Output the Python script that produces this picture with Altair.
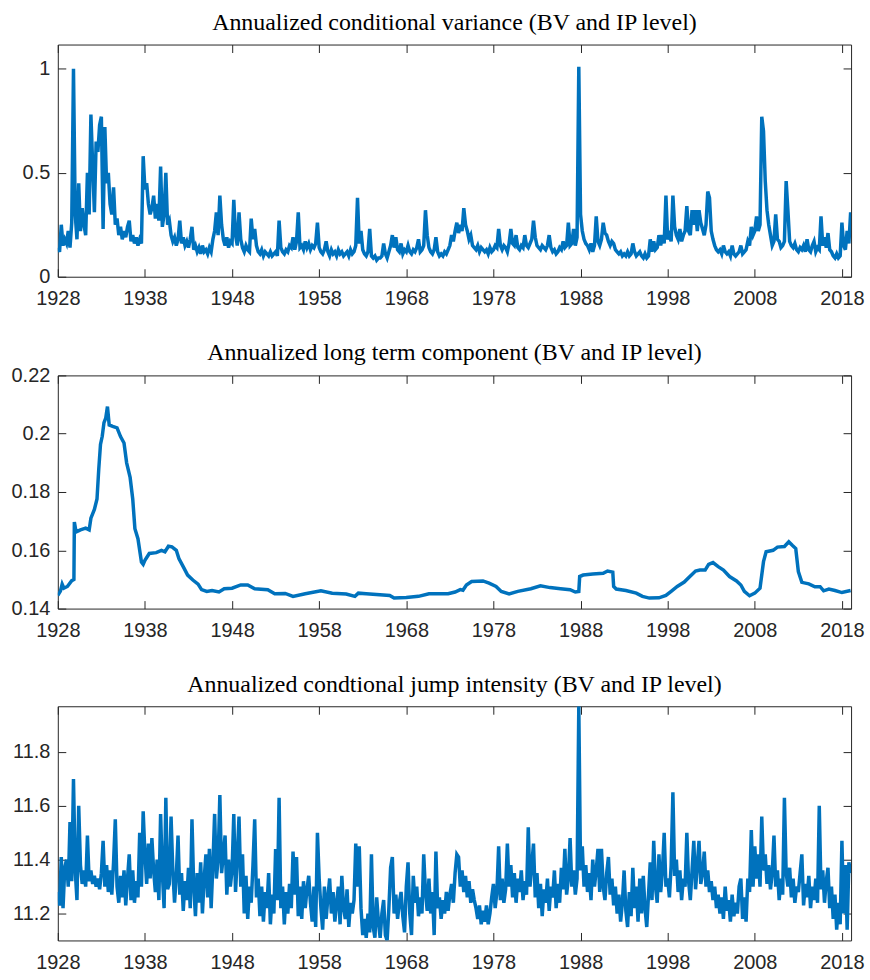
import altair as alt
import pandas as pd

# ---------------- data ----------------
START = 1928.0
STEP = 0.2  # five readings per year for the two noisy series

variance = [
    0.14, 0.12, 0.25, 0.15, 0.18,  # 1928
    0.16, 0.22, 0.14, 0.26, 1.00,  # 1929
    0.30, 0.18, 0.45, 0.22, 0.33,  # 1930
    0.25, 0.20, 0.50, 0.30, 0.78,  # 1931
    0.54, 0.31, 0.65, 0.60, 0.73,  # 1932
    0.77, 0.23, 0.72, 0.45, 0.50,  # 1933
    0.35, 0.30, 0.43, 0.25, 0.28,  # 1934
    0.20, 0.24, 0.18, 0.22, 0.19,  # 1935
    0.24, 0.27, 0.17, 0.20, 0.16,  # 1936
    0.19, 0.15, 0.18, 0.16, 0.58,  # 1937
    0.42, 0.45, 0.35, 0.30, 0.33,  # 1938
    0.39, 0.28, 0.35, 0.27, 0.53,  # 1939
    0.24, 0.30, 0.50, 0.25, 0.27,  # 1940
    0.20, 0.17, 0.19, 0.15, 0.18,  # 1941
    0.27, 0.16, 0.19, 0.15, 0.17,  # 1942
    0.14, 0.18, 0.24, 0.13, 0.15,  # 1943
    0.12, 0.14, 0.11, 0.15, 0.12,  # 1944
    0.13, 0.11, 0.14, 0.12, 0.18,  # 1945
    0.22, 0.31, 0.20, 0.39, 0.25,  # 1946
    0.18, 0.15, 0.19, 0.14, 0.17,  # 1947
    0.16, 0.37, 0.20, 0.15, 0.31,  # 1948
    0.18, 0.14, 0.12, 0.15, 0.13,  # 1949
    0.12, 0.28, 0.18, 0.23, 0.15,  # 1950
    0.12, 0.11, 0.13, 0.10, 0.12,  # 1951
    0.11, 0.10, 0.12, 0.10, 0.11,  # 1952
    0.12, 0.10, 0.27, 0.14, 0.12,  # 1953
    0.11, 0.13, 0.12, 0.15, 0.14,  # 1954
    0.19, 0.13, 0.17, 0.31, 0.14,  # 1955
    0.15, 0.13, 0.17, 0.14, 0.16,  # 1956
    0.13, 0.15, 0.14, 0.16, 0.26,  # 1957
    0.14, 0.12, 0.11, 0.13, 0.17,  # 1958
    0.12, 0.10, 0.13, 0.11, 0.12,  # 1959
    0.10, 0.13, 0.11, 0.12, 0.10,  # 1960
    0.11, 0.12, 0.10, 0.13, 0.11,  # 1961
    0.12, 0.15, 0.38, 0.16, 0.22,  # 1962
    0.13, 0.11, 0.10, 0.12, 0.23,  # 1963
    0.10, 0.09, 0.10, 0.08, 0.09,  # 1964
    0.09, 0.10, 0.16, 0.11, 0.09,  # 1965
    0.12, 0.15, 0.20, 0.14, 0.19,  # 1966
    0.13, 0.12, 0.16, 0.11, 0.13,  # 1967
    0.12, 0.15, 0.12, 0.11, 0.13,  # 1968
    0.12, 0.14, 0.18, 0.12, 0.13,  # 1969
    0.15, 0.32, 0.20, 0.14, 0.12,  # 1970
    0.11, 0.13, 0.19, 0.12, 0.10,  # 1971
    0.11, 0.10, 0.12, 0.11, 0.13,  # 1972
    0.15, 0.20, 0.17, 0.22, 0.26,  # 1973
    0.21, 0.25, 0.22, 0.33, 0.25,  # 1974
    0.22, 0.18, 0.20, 0.15, 0.14,  # 1975
    0.13, 0.15, 0.12, 0.14, 0.13,  # 1976
    0.12, 0.13, 0.11, 0.14, 0.12,  # 1977
    0.13, 0.15, 0.14, 0.23, 0.15,  # 1978
    0.13, 0.15, 0.14, 0.12, 0.16,  # 1979
    0.23, 0.16, 0.15, 0.20, 0.14,  # 1980
    0.13, 0.15, 0.14, 0.20, 0.15,  # 1981
    0.14, 0.16, 0.18, 0.27, 0.19,  # 1982
    0.15, 0.14, 0.13, 0.15, 0.14,  # 1983
    0.13, 0.15, 0.20, 0.14, 0.12,  # 1984
    0.13, 0.11, 0.12, 0.14, 0.13,  # 1985
    0.17, 0.14, 0.15, 0.26, 0.15,  # 1986
    0.16, 0.23, 0.15, 0.19, 1.01,  # 1987
    0.30, 0.22, 0.18, 0.16, 0.15,  # 1988
    0.13, 0.16, 0.12, 0.15, 0.29,  # 1989
    0.17, 0.15, 0.18, 0.26, 0.21,  # 1990
    0.20, 0.17, 0.15, 0.17, 0.16,  # 1991
    0.13, 0.12, 0.11, 0.12, 0.10,  # 1992
    0.11, 0.10, 0.12, 0.10, 0.11,  # 1993
    0.16, 0.12, 0.10, 0.11, 0.12,  # 1994
    0.10, 0.09, 0.11, 0.09, 0.10,  # 1995
    0.18, 0.12, 0.17, 0.13, 0.14,  # 1996
    0.20, 0.15, 0.20, 0.16, 0.39,  # 1997
    0.18, 0.20, 0.17, 0.39, 0.24,  # 1998
    0.20, 0.18, 0.23, 0.17, 0.20,  # 1999
    0.22, 0.34, 0.22, 0.20, 0.32,  # 2000
    0.25, 0.32, 0.22, 0.32, 0.26,  # 2001
    0.23, 0.20, 0.25, 0.41, 0.38,  # 2002
    0.22, 0.18, 0.15, 0.13, 0.12,  # 2003
    0.13, 0.11, 0.15, 0.12, 0.11,  # 2004
    0.12, 0.10, 0.15, 0.11, 0.10,  # 2005
    0.11, 0.12, 0.15, 0.11, 0.12,  # 2006
    0.13, 0.17, 0.15, 0.24, 0.20,  # 2007
    0.22, 0.29, 0.22, 0.25, 0.77,  # 2008
    0.70, 0.46, 0.32, 0.25, 0.20,  # 2009
    0.15, 0.17, 0.30, 0.18, 0.17,  # 2010
    0.14, 0.15, 0.17, 0.46, 0.32,  # 2011
    0.17, 0.15, 0.14, 0.16, 0.13,  # 2012
    0.12, 0.14, 0.13, 0.15, 0.12,  # 2013
    0.18, 0.13, 0.12, 0.15, 0.17,  # 2014
    0.12, 0.14, 0.13, 0.29, 0.15,  # 2015
    0.19, 0.14, 0.21, 0.13, 0.12,  # 2016
    0.10, 0.09, 0.11, 0.09, 0.10,  # 2017
    0.26, 0.15, 0.13, 0.22, 0.16,  # 2018
    0.31,                          # 2019
]

jump = [
    11.28, 11.23, 11.41, 11.22, 11.37,  # 1928
    11.40, 11.30, 11.54, 11.32, 11.70,  # 1929
    11.36, 11.25, 11.60, 11.38, 11.31,  # 1930
    11.36, 11.30, 11.49, 11.32, 11.36,  # 1931
    11.31, 11.34, 11.30, 11.33, 11.29,  # 1932
    11.35, 11.47, 11.30, 11.38, 11.28,  # 1933
    11.36, 11.27, 11.39, 11.55, 11.30,  # 1934
    11.24, 11.34, 11.26, 11.36, 11.23,  # 1935
    11.33, 11.42, 11.25, 11.36, 11.24,  # 1936
    11.32, 11.26, 11.50, 11.30, 11.58,  # 1937
    11.42, 11.31, 11.46, 11.33, 11.48,  # 1938
    11.36, 11.28, 11.40, 11.25, 11.57,  # 1939
    11.35, 11.22, 11.63, 11.29, 11.31,  # 1940
    11.56, 11.36, 11.24, 11.34, 11.49,  # 1941
    11.27, 11.35, 11.21, 11.32, 11.25,  # 1942
    11.37, 11.22, 11.55, 11.30, 11.19,  # 1943
    11.35, 11.24, 11.39, 11.20, 11.33,  # 1944
    11.42, 11.26, 11.44, 11.22, 11.38,  # 1945
    11.57, 11.33, 11.40, 11.64, 11.35,  # 1946
    11.42, 11.49, 11.27, 11.40, 11.30,  # 1947
    11.36, 11.57, 11.28, 11.41, 11.56,  # 1948
    11.30, 11.42, 11.20, 11.34, 11.18,  # 1949
    11.30, 11.24, 11.38, 11.55, 11.26,  # 1950
    11.33, 11.19, 11.30, 11.17, 11.28,  # 1951
    11.22, 11.35, 11.16, 11.27, 11.20,  # 1952
    11.44, 11.25, 11.63, 11.22, 11.30,  # 1953
    11.16, 11.28, 11.20, 11.31, 11.22,  # 1954
    11.43, 11.27, 11.41, 11.19, 11.30,  # 1955
    11.18, 11.32, 11.22, 11.29, 11.34,  # 1956
    11.24, 11.17, 11.30, 11.15, 11.50,  # 1957
    11.33, 11.22, 11.14, 11.30, 11.18,  # 1958
    11.26, 11.33, 11.20, 11.28, 11.17,  # 1959
    11.24, 11.30, 11.16, 11.34, 11.22,  # 1960
    11.18, 11.29, 11.15, 11.24, 11.20,  # 1961
    11.25, 11.46, 11.30, 11.45, 11.22,  # 1962
    11.12, 11.18, 11.11, 11.20, 11.13,  # 1963
    11.42, 11.15, 11.11, 11.26, 11.17,  # 1964
    11.11, 11.20, 11.25, 11.12, 11.10,  # 1965
    11.22, 11.37, 11.41, 11.20, 11.27,  # 1966
    11.18, 11.24, 11.28, 11.19, 11.13,  # 1967
    11.30, 11.39, 11.20, 11.12, 11.34,  # 1968
    11.24, 11.30, 11.19, 11.26, 11.20,  # 1969
    11.42, 11.28, 11.21, 11.33, 11.20,  # 1970
    11.28, 11.12, 11.43, 11.22, 11.26,  # 1971
    11.18, 11.25, 11.20, 11.28, 11.21,  # 1972
    11.27, 11.31, 11.24, 11.35, 11.42,  # 1973
    11.41, 11.30, 11.36, 11.28, 11.34,  # 1974
    11.26, 11.32, 11.24, 11.29, 11.25,  # 1975
    11.22, 11.18, 11.23, 11.16, 11.21,  # 1976
    11.17, 11.23, 11.16, 11.20, 11.26,  # 1977
    11.31, 11.22, 11.28, 11.45, 11.25,  # 1978
    11.33, 11.24, 11.29, 11.46, 11.30,  # 1979
    11.38, 11.26, 11.35, 11.24, 11.33,  # 1980
    11.28, 11.36, 11.25, 11.32, 11.27,  # 1981
    11.52, 11.30, 11.38, 11.46, 11.26,  # 1982
    11.35, 11.22, 11.31, 11.19, 11.29,  # 1983
    11.24, 11.33, 11.21, 11.30, 11.26,  # 1984
    11.36, 11.22, 11.31, 11.24, 11.37,  # 1985
    11.29, 11.44, 11.27, 11.33, 11.48,  # 1986
    11.30, 11.36, 11.27, 11.33, 11.97,  # 1987
    11.36, 11.45, 11.30, 11.38, 11.28,  # 1988
    11.35, 11.25, 11.40, 11.30, 11.36,  # 1989
    11.44, 11.28, 11.44, 11.30, 11.25,  # 1990
    11.35, 11.41, 11.27, 11.33, 11.23,  # 1991
    11.30, 11.20, 11.27, 11.17, 11.24,  # 1992
    11.36, 11.21, 11.15, 11.28, 11.19,  # 1993
    11.37, 11.22, 11.30, 11.17, 11.33,  # 1994
    11.20, 11.34, 11.22, 11.15, 11.27,  # 1995
    11.39, 11.25, 11.47, 11.30, 11.24,  # 1996
    11.42, 11.28, 11.36, 11.50, 11.30,  # 1997
    11.33, 11.26, 11.38, 11.65, 11.34,  # 1998
    11.40, 11.28, 11.36, 11.25, 11.33,  # 1999
    11.30, 11.50, 11.32, 11.25, 11.36,  # 2000
    11.47, 11.29, 11.38, 11.47, 11.31,  # 2001
    11.35, 11.43, 11.30, 11.36, 11.28,  # 2002
    11.32, 11.25, 11.30, 11.22, 11.27,  # 2003
    11.20, 11.26, 11.18, 11.30, 11.21,  # 2004
    11.25, 11.17, 11.27, 11.19, 11.24,  # 2005
    11.20, 11.30, 11.33, 11.18, 11.26,  # 2006
    11.17, 11.33, 11.28, 11.51, 11.30,  # 2007
    11.45, 11.33, 11.42, 11.30, 11.56,  # 2008
    11.36, 11.42, 11.31, 11.38, 11.29,  # 2009
    11.35, 11.49, 11.30, 11.36, 11.25,  # 2010
    11.33, 11.27, 11.63, 11.35, 11.30,  # 2011
    11.37, 11.26, 11.33, 11.24, 11.30,  # 2012
    11.28, 11.35, 11.42, 11.23, 11.31,  # 2013
    11.26, 11.34, 11.22, 11.30, 11.25,  # 2014
    11.33, 11.24, 11.60, 11.29, 11.36,  # 2015
    11.24, 11.32, 11.37, 11.22, 11.30,  # 2016
    11.18, 11.27, 11.14, 11.24, 11.16,  # 2017
    11.47, 11.20, 11.38, 11.14, 11.39,  # 2018
    11.35,                              # 2019
]

lt_years = [
    1928.0, 1928.3, 1928.5, 1928.7, 1929.1, 1929.6, 1929.85, 1929.9, 1930.1, 1930.6,
    1931.2, 1931.6, 1931.8, 1932.2, 1932.5, 1932.7, 1932.9, 1933.1, 1933.3, 1933.5,
    1933.7, 1933.9, 1934.3, 1934.8, 1935.2, 1935.6, 1935.9, 1936.3, 1936.6, 1936.85,
    1937.2, 1937.6, 1937.8, 1938.0, 1938.5, 1939.3, 1939.9, 1940.3, 1940.7, 1941.1,
    1941.6, 1941.9, 1942.5, 1942.9, 1943.5, 1944.1, 1944.5, 1945.1, 1945.7, 1946.5,
    1947.1, 1948.0, 1949.0, 1949.8, 1950.6, 1952.1, 1952.9, 1954.1, 1955.0, 1956.4,
    1958.2, 1959.5, 1961.1, 1962.1, 1962.5, 1963.4, 1966.1, 1966.6, 1968.0, 1969.4,
    1970.6, 1972.8, 1973.6, 1974.2, 1974.5, 1974.9, 1975.5, 1976.8, 1977.5, 1978.3,
    1978.9, 1979.8, 1980.8, 1982.3, 1983.4, 1984.5, 1985.7, 1986.8, 1987.4, 1987.8,
    1987.9, 1988.3, 1989.4, 1990.6, 1991.1, 1991.7, 1991.8, 1992.1, 1993.2, 1994.4,
    1995.1, 1995.9, 1997.0, 1997.8, 1998.4, 1999.1, 1999.9, 2000.4, 2001.2, 2001.7,
    2002.3, 2002.7, 2003.2, 2003.8, 2004.4, 2005.1, 2005.9, 2006.4, 2006.8, 2007.4,
    2008.0, 2008.6, 2009.0, 2009.3, 2010.1, 2010.6, 2011.4, 2011.9, 2012.3, 2012.7,
    2013.0, 2013.4, 2014.2, 2014.9, 2015.5, 2015.9, 2016.5, 2017.2, 2018.0, 2019.0,
]
lt_values = [
    0.1445, 0.1460, 0.1484, 0.1470, 0.1476, 0.1496, 0.1500, 0.1697, 0.1663, 0.1670,
    0.1676, 0.1670, 0.1710, 0.1740, 0.1776, 0.1878, 0.1963, 0.1991, 0.2038, 0.2053,
    0.2093, 0.2030, 0.2025, 0.2020, 0.1990, 0.1968, 0.1900, 0.1850, 0.1776, 0.1674,
    0.1640, 0.1560, 0.1552, 0.1566, 0.1589, 0.1592, 0.1600, 0.1595, 0.1614, 0.1612,
    0.1600, 0.1572, 0.1538, 0.1515, 0.1498, 0.1484, 0.1465, 0.1459, 0.1462, 0.1457,
    0.1468, 0.1470, 0.1481, 0.1481, 0.1468, 0.1465, 0.1451, 0.1452, 0.1442, 0.1451,
    0.1461, 0.1453, 0.1450, 0.1442, 0.1453, 0.1451, 0.1445, 0.1436, 0.1438, 0.1442,
    0.1451, 0.1451, 0.1457, 0.1465, 0.1463, 0.1481, 0.1493, 0.1495, 0.1487, 0.1476,
    0.1459, 0.1450, 0.1459, 0.1468, 0.1478, 0.1472, 0.1468, 0.1465, 0.1457, 0.1459,
    0.1510, 0.1515, 0.1519, 0.1521, 0.1529, 0.1525, 0.1476, 0.1467, 0.1462, 0.1453,
    0.1442, 0.1436, 0.1437, 0.1445, 0.1459, 0.1476, 0.1491, 0.1506, 0.1529, 0.1532,
    0.1532, 0.1552, 0.1558, 0.1544, 0.1532, 0.1510, 0.1495, 0.1481, 0.1459, 0.1444,
    0.1453, 0.1470, 0.1561, 0.1595, 0.1600, 0.1611, 0.1613, 0.1629, 0.1617, 0.1606,
    0.1527, 0.1490, 0.1485, 0.1475, 0.1475, 0.1461, 0.1467, 0.1462, 0.1455, 0.1462,
]

titles = [
    "Annualized conditional variance (BV and IP level)",
    "Annualized long term component (BV and IP level)",
    "Annualized condtional jump intensity (BV and IP level)",
]
x_ticks = [1928, 1938, 1948, 1958, 1968, 1978, 1988, 1998, 2008, 2018]
x_domain = [1928.0, 2019.05]
y_domains = [[0, 1.117], [0.14, 0.22], [11.1, 11.97]]
y_ticks = [[0, 0.5, 1], [0.14, 0.16, 0.18, 0.2, 0.22], [11.2, 11.4, 11.6, 11.8]]

# ---------------- tables ----------------
df_var = pd.DataFrame({"year": [START + STEP * i for i in range(len(variance))], "value": variance})
df_jump = pd.DataFrame({"year": [START + STEP * i for i in range(len(jump))], "value": jump})
df_lt = pd.DataFrame({"year": lt_years, "value": lt_values})

BLUE = "#0072BD"
AXC = "#262626"
LABEL_FONT = "Liberation Sans"
TITLE_FONT = "Liberation Serif"
TICK = 8
LABEL_SIZE = 20
WIDTH = 796


def tick_axis(orient, values, offset):
    # tick-only axis pushed inside the frame so that its ticks point inward
    return alt.Axis(orient=orient, values=values, labels=False, domain=False, grid=False,
                    ticks=True, tickSize=TICK, tickColor=AXC, tickWidth=1,
                    offset=offset, minExtent=0, maxExtent=0, title=None)


def panel(df, title, ydom, yvals, height, toff):
    xs = alt.Scale(domain=x_domain, nice=False, zero=False)
    ys = alt.Scale(domain=ydom, nice=False, zero=False)
    base = alt.Chart(df)

    main = base.mark_line(color=BLUE, strokeWidth=3.5, clip=True).encode(
        x=alt.X("year:Q", scale=xs, title=None,
                axis=alt.Axis(orient="bottom", values=x_ticks, format="d", tickSize=0,
                              domain=False, grid=False, labelPadding=12,
                              labelFontSize=LABEL_SIZE, labelFont=LABEL_FONT, labelColor=AXC,
                              labelFlush=False)),
        y=alt.Y("value:Q", scale=ys, title=None,
                axis=alt.Axis(orient="left", values=yvals, format="~g", tickSize=0,
                              domain=False, grid=False, labelPadding=8,
                              labelFontSize=LABEL_SIZE, labelFont=LABEL_FONT, labelColor=AXC,
                              minExtent=48, maxExtent=48)),
    )
    # inward ticks on bottom and left edges
    ticks_bl = base.mark_line(strokeOpacity=0, clip=True).encode(
        x=alt.X("year:Q", scale=xs, axis=tick_axis("bottom", x_ticks, -TICK)),
        y=alt.Y("value:Q", scale=ys, axis=tick_axis("left", yvals, -TICK)),
    )
    # inward ticks on top and right edges (bottom/left axes moved across the frame)
    ticks_tr = base.mark_line(strokeOpacity=0, clip=True).encode(
        x=alt.X("year:Q", scale=xs, axis=tick_axis("bottom", x_ticks, -height)),
        y=alt.Y("value:Q", scale=ys, axis=tick_axis("left", yvals, -WIDTH)),
    )
    return (
        alt.layer(main, ticks_bl, ticks_tr)
        .resolve_axis(x="independent", y="independent")
        .properties(
            width=WIDTH,
            height=height,
            title=alt.TitleParams(title, font=TITLE_FONT, fontSize=24, fontWeight="normal",
                                  color="black", anchor="middle", frame="group",
                                  offset=toff),
        )
    )


p1 = panel(df_var, titles[0], y_domains[0], y_ticks[0], 233, 9)
p2 = panel(df_lt, titles[1], y_domains[1], y_ticks[1], 234, 0)
p3 = panel(df_jump, titles[2], y_domains[2], y_ticks[2], 235, 9)

chart = (
    alt.vconcat(p1, p2, p3, spacing=31)
    .properties(padding={"left": 9, "top": 9, "right": 5, "bottom": 5}, background="white")
    .configure_view(stroke=AXC, strokeWidth=1)
)

chart.save("out.html", embed_options={"renderer": "svg", "actions": False})
